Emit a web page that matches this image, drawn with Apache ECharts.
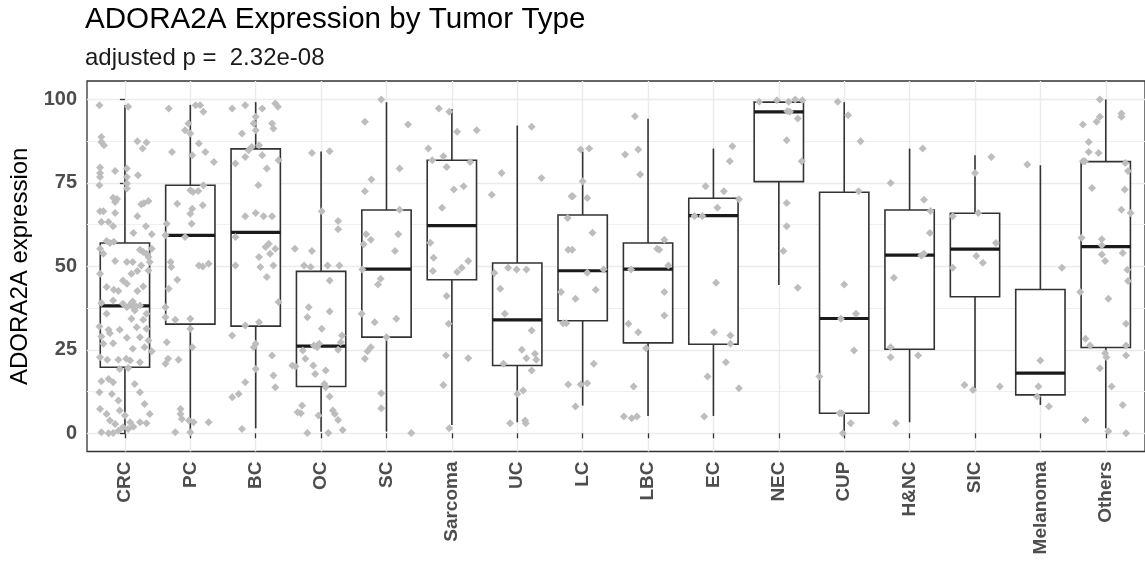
<!DOCTYPE html>
<html>
<head>
<meta charset="utf-8">
<title>ADORA2A Expression by Tumor Type</title>
<script src="https://cdn.jsdelivr.net/npm/echarts@6/dist/echarts.min.js"></script>
<style>
  html, body { margin: 0; padding: 0; background: #ffffff; }
  #chart { width: 1145px; height: 564px; }
</style>
</head>
<body>
<div id="chart"></div>
<script>
// Tumor types along the x axis
const categories = ['CRC', 'PC', 'BC', 'OC', 'SC', 'Sarcoma', 'UC', 'LC', 'LBC', 'EC', 'NEC', 'CUP', 'H&NC', 'SIC', 'Melanoma', 'Others'];

// Box statistics per tumor type (whisker ends, quartiles, median)
const whiskerLow  = [0.0, 0.5, 1.5, 0.5, 0.5, 2.5, 3.3, 8.3, 5.2, 5.2, 44.4, 0.5, 3.3, 13.5, 8.5, 1.5];
const q1          = [19.8, 32.7, 32.1, 14.0, 28.8, 46.0, 20.3, 33.7, 27.1, 26.7, 75.4, 6.0, 25.2, 40.9, 11.5, 25.7];
const median      = [38.2, 59.3, 60.2, 26.1, 49.2, 62.2, 34.0, 48.7, 49.2, 65.2, 96.3, 34.4, 53.4, 55.2, 18.0, 55.9];
const q3          = [57.0, 74.3, 85.2, 48.5, 66.9, 81.8, 51.0, 65.4, 57.0, 70.4, 99.2, 72.2, 66.9, 65.9, 43.1, 81.4];
const whiskerHigh = [98.3, 98.4, 99.2, 84.4, 99.2, 97.1, 92.2, 84.4, 94.2, 85.3, 99.2, 99.2, 85.3, 83.3, 80.3, 100.0];

// Y axis tick labels
const yTicks = [0, 25, 50, 75, 100];
const yMinorTicks = [12.5, 37.5, 62.5, 87.5];

// Individual samples: [horizontal jitter within the category, expression]
const crcPoints = [
  [-0.39,98.3],[0.05,97.8],[-0.36,88.8],[-0.32,86.3],[-0.36,87.3],[0.19,87.5],[0.33,87.1],[0.27,85.3],
  [-0.38,79.6],[-0.38,78.0],[-0.38,76.8],[-0.15,78.6],[0.03,79.3],[0.03,76.8],[0.2,77.3],
  [-0.39,74.3],[0.03,74.8],[0.03,73.3],[-0.18,70.6],[-0.12,70.2],[-0.15,69.3],[0.25,68.6],[0.36,69.6],[0.29,68.9],
  [-0.38,66.5],[-0.33,66.5],[-0.15,66.0],[0.19,65.0],[-0.36,63.3],[-0.25,63.3],[-0.18,62.0],[0.32,62.0],[0.41,59.6],[0.13,60.0],
  [-0.28,57.6],[-0.23,57.0],[-0.17,57.4],
  [-0.38,55.3],[-0.33,53.8],[-0.15,51.6],[0.03,51.3],[0.12,51.3],[0.23,55.0],[0.28,54.3],[0.33,53.8],[0.36,52.8],[0.41,55.3],[0.38,51.3],[0.25,50.3],
  [-0.38,47.8],[0.1,47.8],[0.19,48.6],[0.36,48.8],[-0.28,43.8],[-0.17,43.0],[-0.1,42.6],[-0.03,45.8],[0.03,44.8],[0.19,42.6],[0.28,44.0],
  [-0.36,39.0],[-0.18,39.8],[-0.03,38.8],[0.03,37.8],[0.1,39.0],[0.15,36.8],[0.23,38.3],[0.1,38.5],[0.14,37.5],[0.12,39.5],[0.17,38.0],
  [-0.28,35.8],[0.1,34.3],[0.28,34.0],[0.33,35.8],
  [-0.39,32.0],[-0.25,31.0],[-0.08,31.0],[0.18,31.8],[0.33,31.3],
  [-0.36,29.0],[-0.23,30.0],[0.03,28.6],[0.23,28.8],[0.36,27.8],
  [-0.33,26.8],[-0.18,27.0],[0.12,25.3],[0.3,25.8],[0.41,24.6],
  [-0.38,22.8],[-0.27,22.0],[-0.1,22.0],[0.02,22.3],[0.08,21.8],[0.23,21.3],
  [-0.08,19.3],[0.05,19.6],
  [-0.25,16.3],[-0.18,15.3],[-0.36,15.6],[-0.39,12.3],[-0.2,11.8],[-0.1,9.8],[0.15,14.8],[0.23,12.3],[0.3,8.8],[0.38,5.8],
  [-0.38,7.3],[-0.28,5.8],[-0.23,3.8],[-0.15,2.8],[-0.08,6.8],[0.0,5.3],[0.08,3.3],[0.13,2.0],[0.23,3.3],[0.33,3.0],
  [-0.36,0.3],[-0.25,0.0],[-0.18,0.1],[-0.1,0.8],[-0.03,1.8],[0.05,1.3]
];
const pcPoints = [
  [-0.33,97.3],[0.08,98.3],[0.15,98.3],[0.2,96.3],[-0.08,90.8],[-0.03,92.8],[0.0,89.8],[-0.28,84.3],[0.03,83.3],[0.13,86.8],
  [0.23,84.3],[0.36,81.3],[0.2,74.3],[-0.2,68.8],[0.0,72.8],[0.04,72.3],[0.12,72.6],[0.19,68.3],[0.03,67.3],[0.0,65.8],
  [0.02,62.8],[-0.36,62.8],[-0.38,59.3],[-0.08,58.8],[-0.3,51.3],[-0.29,49.8],[0.13,50.3],[0.19,50.0],[0.28,50.8],[-0.2,46.0],
  [-0.33,43.3],[-0.38,37.8],[-0.38,34.8],[-0.23,34.0],[0.0,34.3],[0.0,31.3],[0.03,25.8],[-0.36,27.3],[-0.38,20.8],[-0.34,22.3],
  [-0.18,22.0],[-0.15,7.3],[-0.15,5.8],[-0.13,4.3],[-0.02,3.8],[0.05,3.3],[0.28,3.3],[-0.23,0.3],[0.0,0.3]
];
const bcPoints = [
  [-0.36,97.3],[-0.16,98.3],[0.1,97.3],[0.3,98.8],[0.34,97.8],[0.0,94.8],[-0.03,92.8],[0.0,90.8],[0.25,92.8],[0.27,91.3],
  [-0.21,89.8],[-0.31,80.8],[-0.16,82.8],[-0.11,84.8],[-0.06,85.8],[0.05,86.3],[0.1,83.3],[0.17,79.3],[0.04,74.3],[0.35,81.8],
  [-0.16,65.0],[0.0,66.0],[0.12,65.0],[0.25,65.0],[-0.31,58.8],[0.15,55.8],[0.2,56.8],[0.22,53.8],[0.05,52.8],[0.3,55.3],
  [-0.31,50.3],[0.07,49.8],[0.27,50.3],[0.35,39.3],[0.17,46.8],[-0.36,29.3],[-0.16,32.3],[0.05,33.3],[0.0,26.8],[-0.03,25.8],
  [0.0,19.3],[0.25,23.3],[0.27,17.3],[0.3,13.8],[-0.36,10.8],[-0.26,11.8],[-0.16,15.3],[-0.21,1.3]
];
const ocPoints = [
  [-0.4,55.3],[-0.44,20.3],[-0.36,6.3],[-0.14,84.0],[0.13,84.5],[0.01,66.5],[-0.14,54.6],[-0.26,50.3],[-0.16,49.8],[0.1,50.3],
  [0.28,50.3],[0.13,45.8],[-0.19,37.8],[-0.21,34.8],[0.13,36.5],[0.01,31.3],[0.26,63.6],[0.26,61.1],[0.32,29.3],[0.3,27.3],
  [-0.11,26.3],[-0.06,25.8],[-0.03,26.8],[0.26,25.0],[-0.28,24.8],[-0.39,20.0],[-0.24,22.3],[-0.12,20.3],[0.07,18.8],[-0.09,17.8],
  [0.05,14.8],[0.07,13.8],[0.13,11.0],[-0.29,8.3],[-0.31,6.0],[-0.04,5.3],[0.18,6.8],[0.21,5.8],[0.26,4.0],[0.33,1.0],
  [-0.21,0.1],[0.11,0.1]
];
const scPoints = [
  [-0.08,100.0],[-0.33,93.3],[0.33,92.5],[0.2,79.3],[-0.23,76.0],[-0.33,72.5],[-0.31,59.6],[-0.24,58.0],[-0.35,56.6],[0.18,59.6],
  [0.13,54.6],[-0.37,49.1],[-0.09,46.3],[-0.13,44.6],[0.2,67.0],[-0.38,35.8],[-0.18,33.3],[0.15,34.3],[0.0,28.8],[-0.24,25.8],
  [-0.29,24.6],[-0.33,22.3],[-0.08,12.0],[-0.08,7.5],[0.38,0.1]
];
const sarcomaPoints = [
  [-0.2,97.3],[-0.04,96.3],[0.08,90.3],[0.38,90.8],[-0.36,85.3],[-0.3,81.8],[-0.13,83.0],[-0.08,79.8],[0.28,81.3],[0.03,73.0],
  [0.18,74.0],[-0.15,67.6],[-0.33,57.1],[-0.28,52.6],[-0.29,48.6],[0.08,48.3],[0.15,49.6],[0.25,51.6],[-0.08,41.1],[-0.05,32.8],
  [-0.09,23.3],[0.25,22.5],[-0.13,14.5],[-0.04,1.5]
];
const ucPoints = [
  [-0.24,78.0],[-0.39,71.5],[0.22,91.8],[0.37,76.5],[-0.35,48.0],[-0.26,43.3],[-0.14,49.6],[-0.01,49.1],[0.14,49.1],[-0.19,35.8],
  [0.22,30.8],[0.07,25.0],[0.14,22.5],[0.27,23.8],[0.29,22.0],[0.22,18.8],[-0.21,20.8],[0.0,11.8],[0.09,12.8],[-0.11,3.0],
  [0.12,3.8],[0.13,3.0]
];
const lcPoints = [
  [-0.17,71.0],[-0.22,55.0],[-0.33,42.3],[-0.11,40.3],[-0.3,33.0],[-0.11,8.0],[-0.22,14.6],[-0.03,85.0],[0.1,85.3],[0.0,75.5],
  [-0.15,71.0],[0.07,70.5],[-0.23,64.5],[0.15,60.1],[-0.16,55.0],[0.07,48.1],[0.32,49.1],[0.2,43.0],[-0.25,33.0],[0.17,20.8],
  [-0.03,14.6],[0.07,15.0]
];
const lbcPoints = [
  [-0.2,95.0],[-0.35,83.5],[-0.15,85.0],[-0.12,77.5],[0.25,58.0],[0.14,55.3],[0.17,55.0],[0.31,50.3],[-0.26,49.1],[0.25,42.3],
  [0.25,35.3],[-0.3,32.8],[-0.15,30.3],[-0.03,25.5],[-0.22,14.0],[-0.37,5.0],[-0.25,4.5],[-0.17,5.0]
];
const ecPoints = [
  [0.29,86.0],[0.25,81.5],[-0.12,74.0],[0.16,72.5],[0.06,67.6],[-0.29,65.1],[-0.17,65.1],[0.39,70.1],[0.04,45.1],[0.01,30.3],
  [0.26,29.3],[0.26,26.8],[0.19,21.3],[-0.09,17.0],[0.39,13.5],[-0.14,5.0]
];
const necPoints = [
  [-0.3,99.3],[-0.03,99.8],[0.15,99.3],[0.25,100.0],[0.36,99.8],[0.13,96.5],[0.17,96.3],[0.29,94.3],[0.12,87.8],[0.35,81.5],
  [0.12,69.0],[0.12,62.0],[0.07,54.6],[0.29,43.6]
];
const cupPoints = [
  [-0.1,99.3],[0.06,95.3],[0.25,87.5],[0.22,72.5],[0.0,44.6],[-0.05,34.3],[0.18,35.8],[0.15,24.8],[-0.38,17.0],[-0.07,6.0],
  [-0.04,6.0],[0.1,3.0],[-0.02,0.0]
];
const hncPoints = [
  [-0.29,75.0],[0.2,85.3],[0.22,70.0],[0.32,66.6],[0.31,60.0],[0.18,53.3],[0.22,53.8],[-0.24,46.6],[-0.29,25.8],[-0.29,22.8],
  [0.13,23.3],[-0.21,3.0]
];
const sicPoints = [
  [0.25,82.8],[0.0,78.0],[-0.34,65.0],[0.05,66.0],[0.32,57.0],[0.02,53.1],[0.12,51.1],[-0.34,49.6],[-0.16,14.5],[-0.03,13.0],
  [0.38,14.0]
];
const melanomaPoints = [
  [-0.2,80.5],[0.33,49.6],[0.0,21.8],[-0.03,14.0],[-0.05,11.0],[0.13,8.0]
];
const othersPoints = [
  [-0.09,100.0],[-0.09,94.8],[-0.14,93.3],[-0.35,92.5],[0.24,95.8],[0.24,94.8],[-0.26,87.3],[-0.26,84.3],[-0.11,84.0],[-0.35,81.5],
  [-0.32,81.5],[0.3,81.0],[0.34,78.6],[-0.21,73.5],[0.29,73.0],[0.24,67.0],[0.38,66.0],[-0.37,58.6],[-0.06,58.1],[-0.06,56.3],
  [-0.06,53.6],[-0.01,51.6],[0.26,54.0],[0.33,49.0],[0.34,45.6],[0.04,40.3],[-0.39,42.3],[0.31,32.8],[-0.31,28.3],[-0.24,26.3],
  [0.31,26.3],[-0.01,24.0],[0.01,22.8],[0.31,23.3],[-0.09,19.5],[0.09,14.0],[0.26,8.5],[-0.31,4.0],[0.04,0.6],[0.31,0.0]
];

const pointGroups = [
  crcPoints, pcPoints, bcPoints, ocPoints, scPoints, sarcomaPoints, ucPoints, lcPoints,
  lbcPoints, ecPoints, necPoints, cupPoints, hncPoints, sicPoints, melanomaPoints, othersPoints
];

const FONT = '"Liberation Sans", Arial, Helvetica, sans-serif';
const BOX_HALF = 0.377;

const boxRows = categories.map((c, i) => [i, whiskerLow[i], q1[i], median[i], q3[i], whiskerHigh[i]]);
const scatterRows = [];
pointGroups.forEach((group, i) => {
  group.forEach(p => scatterRows.push([i + p[0], p[1]]));
});
const catIndex = categories.map((c, i) => i);

const chart = echarts.init(document.getElementById('chart'), null, { renderer: 'canvas' });

chart.setOption({
  animation: false,
  backgroundColor: '#ffffff',
  title: [
    {
      text: 'ADORA2A Expression by Tumor Type',
      left: 85, top: 5, padding: 0,
      textStyle: { fontFamily: FONT, fontSize: 29.6, fontWeight: 'normal', color: '#000000' }
    },
    {
      text: 'adjusted p =  2.32e-08',
      left: 85, top: 46, padding: 0,
      textStyle: { fontFamily: FONT, fontSize: 24, fontWeight: 'normal', color: '#1a1a1a' }
    }
  ],
  grid: {
    left: 87, top: 81, width: 1062.5, height: 370.5,
    show: true, borderColor: '#333333', borderWidth: 1.3, backgroundColor: '#ffffff'
  },
  xAxis: {
    type: 'value',
    min: -0.58, max: 15.6,
    axisLine: { show: false },
    axisTick: { show: true, customValues: catIndex, length: 5, lineStyle: { color: '#333333', width: 1.3 } },
    axisLabel: {
      customValues: catIndex,
      formatter: v => categories[Math.round(v)],
      rotate: 90, margin: 10,
      fontFamily: FONT, fontSize: 19, fontWeight: 'bold', color: '#4d4d4d'
    },
    splitLine: { show: true, lineStyle: { color: '#ebebeb', width: 1.4 } }
  },
  yAxis: [
    {
      type: 'value',
      min: -5.45, max: 105.54,
      name: 'ADORA2A expression',
      nameLocation: 'middle',
      nameGap: 53,
      nameTextStyle: { fontFamily: FONT, fontSize: 24, color: '#000000' },
      axisLine: { show: false },
      axisTick: { show: true, customValues: yTicks, length: 5, lineStyle: { color: '#333333', width: 1.3 } },
      axisLabel: {
        customValues: yTicks, margin: 10,
        fontFamily: FONT, fontSize: 20, fontWeight: 'bold', color: '#4d4d4d'
      },
      splitLine: { show: true, lineStyle: { color: '#ebebeb', width: 1.4 } }
    },
    {
      type: 'value',
      position: 'right',
      min: -5.45, max: 105.54,
      axisLine: { show: false },
      axisTick: { show: false, customValues: yMinorTicks },
      axisLabel: { show: false, customValues: yMinorTicks },
      splitLine: { show: true, lineStyle: { color: '#efefef', width: 1.1 } }
    }
  ],
  series: [
    {
      type: 'custom',
      name: 'box',
      xAxisIndex: 0, yAxisIndex: 0,
      data: boxRows,
      encode: { x: 0, y: [1, 2, 3, 4, 5] },
      z: 3,
      renderItem: function (params, api) {
        const i = api.value(0);
        const lo = api.coord([i, api.value(1)]);
        const b1 = api.coord([i - BOX_HALF, api.value(2)]);
        const md = api.coord([i, api.value(3)]);
        const b3 = api.coord([i + BOX_HALF, api.value(4)]);
        const hi = api.coord([i, api.value(5)]);
        const edge = { stroke: '#333333', lineWidth: 1.6, fill: null };
        return {
          type: 'group',
          children: [
            { type: 'line', shape: { x1: lo[0], y1: lo[1], x2: lo[0], y2: b1[1] }, style: edge },
            { type: 'line', shape: { x1: hi[0], y1: hi[1], x2: hi[0], y2: b3[1] }, style: edge },
            {
              type: 'rect',
              shape: { x: b1[0], y: b3[1], width: b3[0] - b1[0], height: b1[1] - b3[1] },
              style: { fill: '#ffffff', stroke: '#333333', lineWidth: 1.6 }
            },
            {
              type: 'line',
              shape: { x1: b1[0], y1: md[1], x2: b3[0], y2: md[1] },
              style: { stroke: '#1a1a1a', lineWidth: 3.2 }
            }
          ]
        };
      }
    },
    {
      type: 'scatter',
      name: 'samples',
      xAxisIndex: 0, yAxisIndex: 0,
      data: scatterRows,
      symbol: 'diamond',
      symbolSize: 8,
      z: 5,
      itemStyle: { color: '#bdbdbd', opacity: 1 }
    }
  ]
});
</script>
</body>
</html>
